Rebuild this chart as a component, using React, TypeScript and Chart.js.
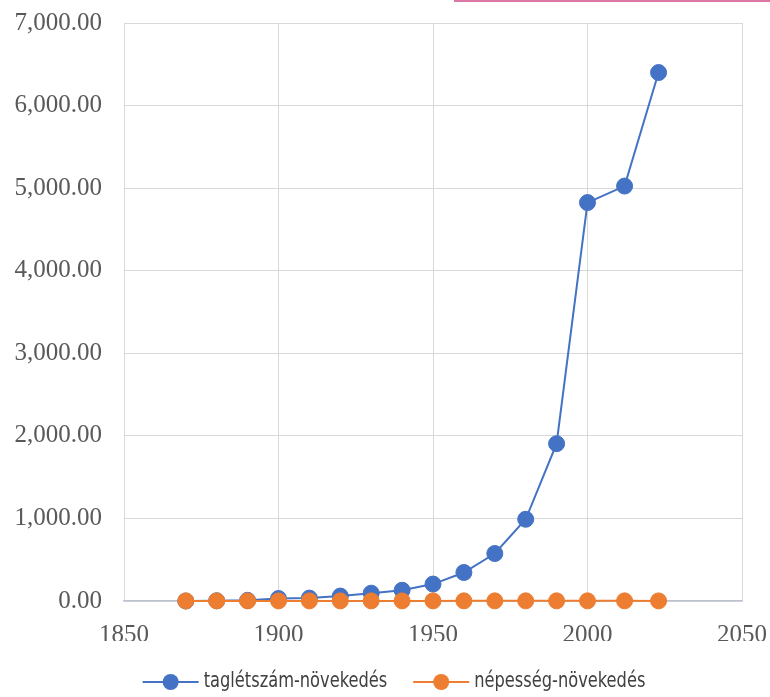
import React, { useEffect, useRef } from "react";
import { Chart, registerables } from "chart.js";

Chart.register(...registerables);

const years = [1870, 1880, 1890, 1900, 1910, 1920, 1930, 1940, 1950, 1960, 1970, 1980, 1990, 2000, 2012, 2023];
const membershipGrowth = [0, 3, 8, 30, 35, 60, 95, 130, 205, 345, 575, 990, 1905, 4825, 5025, 6400];
const populationGrowth = [1, 1.1, 1.2, 1.3, 1.4, 1.3, 1.4, 1.5, 1.5, 1.6, 1.7, 1.7, 1.7, 1.6, 1.6, 1.5];
const seriesLabels = ["taglétszám-növekedés", "népesség-növekedés"];
const xTicks = [1850, 1900, 1950, 2000, 2050];
const yMax = 7000;

const BLUE = "#4472C4";
const ORANGE = "#ED7D31";
const SERIF = "'Liberation Serif', 'Times New Roman', serif";
const NARROW = "'DejaVu Sans Condensed', 'Liberation Sans Narrow', sans-serif";

const legendPlugin = {
  id: "customLegend",
  afterDraw(chart: any) {
    const ctx = chart.ctx as CanvasRenderingContext2D;
    const items = [
      { label: seriesLabels[0], color: BLUE },
      { label: seriesLabels[1], color: ORANGE },
    ];
    const lineLen = 56;
    const textGap = 5;
    const itemGap = 26;
    const squeeze = 0.86;
    const y = 682;
    ctx.save();
    ctx.font = `21px ${NARROW}`;
    const widths = items.map((it) => lineLen + textGap + ctx.measureText(it.label).width * squeeze);
    const total = widths.reduce((a, b) => a + b, 0) + itemGap * (items.length - 1);
    let x = chart.width / 2 + 9 - total / 2;
    items.forEach((it, i) => {
      ctx.strokeStyle = it.color;
      ctx.lineWidth = 2;
      ctx.beginPath();
      ctx.moveTo(x, y);
      ctx.lineTo(x + lineLen, y);
      ctx.stroke();
      ctx.fillStyle = it.color;
      ctx.beginPath();
      ctx.arc(x + lineLen / 2, y, 8, 0, Math.PI * 2);
      ctx.fill();
      ctx.save();
      ctx.translate(x + lineLen + textGap, y);
      ctx.scale(squeeze, 1);
      ctx.fillStyle = "#404040";
      ctx.textBaseline = "middle";
      ctx.textAlign = "left";
      ctx.fillText(it.label, 0, 0);
      ctx.restore();
      x += widths[i] + itemGap;
    });
    ctx.restore();
  },
};

export default function App() {
  const ref = useRef<HTMLCanvasElement | null>(null);

  useEffect(() => {
    if (!ref.current) return;
    const chart = new Chart(ref.current, {
      type: "scatter",
      data: {
        datasets: [
          {
            label: seriesLabels[1],
            data: years.map((yr, i) => ({ x: yr, y: populationGrowth[i] })),
            showLine: true,
            clip: false,
            borderColor: ORANGE,
            backgroundColor: ORANGE,
            borderWidth: 2,
            pointRadius: 8,
            pointBorderWidth: 1,
            pointBorderColor: ORANGE,
            pointBackgroundColor: ORANGE,
          },
          {
            label: seriesLabels[0],
            data: years.map((yr, i) => ({ x: yr, y: membershipGrowth[i] })),
            showLine: true,
            clip: false,
            borderColor: BLUE,
            backgroundColor: BLUE,
            borderWidth: 2,
            pointRadius: 8,
            pointBorderWidth: 1,
            pointBorderColor: BLUE,
            pointBackgroundColor: BLUE,
          },
        ],
      },
      options: {
        animation: false,
        responsive: true,
        maintainAspectRatio: false,
        layout: { padding: { left: 0, top: 23, right: 28, bottom: 56 } },
        plugins: {
          legend: { display: false },
          tooltip: { enabled: false },
        },
        scales: {
          x: {
            type: "linear",
            min: 1850,
            max: 2050,
            afterBuildTicks: (axis: any) => {
              axis.ticks = xTicks.map((v) => ({ value: v }));
            },
            afterFit: (axis: any) => {
              axis.height = 40;
              axis.paddingLeft = 0;
              axis.paddingRight = 0;
            },
            ticks: {
              font: { family: SERIF, size: 25 },
              color: "#595959",
              padding: 19,
              callback: (v: any) => String(v),
            },
            grid: { color: "#d9d9d9", lineWidth: 1, drawTicks: false },
            border: { display: true, color: "#bcc3cf", width: 1.5 },
          },
          y: {
            min: 0,
            max: yMax,
            ticks: {
              stepSize: 1000,
              font: { family: SERIF, size: 25 },
              color: "#595959",
              padding: 22,
              callback: (v: any) =>
                Number(v).toLocaleString("en-US", { minimumFractionDigits: 2, maximumFractionDigits: 2 }),
            },
            afterFit: (axis: any) => {
              axis.width = 124;
              axis.paddingTop = 0;
              axis.paddingBottom = 0;
            },
            grid: { color: "#d9d9d9", lineWidth: 1, drawTicks: false },
            border: { display: false },
          },
        },
      },
      plugins: [legendPlugin],
    });
    return () => chart.destroy();
  }, []);

  return (
    <div style={{ position: "fixed", left: 0, top: 0, width: 770, height: 697, background: "#fff" }}>
      <canvas ref={ref} />
      <div
        style={{
          position: "absolute",
          left: 454,
          top: -10,
          width: 330,
          height: 12,
          border: "2px solid #dc77a3",
          boxSizing: "border-box",
        }}
      />
      <div style={{ position: "absolute", left: 559, top: 0, width: 2, height: 2, background: "#dc77a3" }} />
    </div>
  );
}
